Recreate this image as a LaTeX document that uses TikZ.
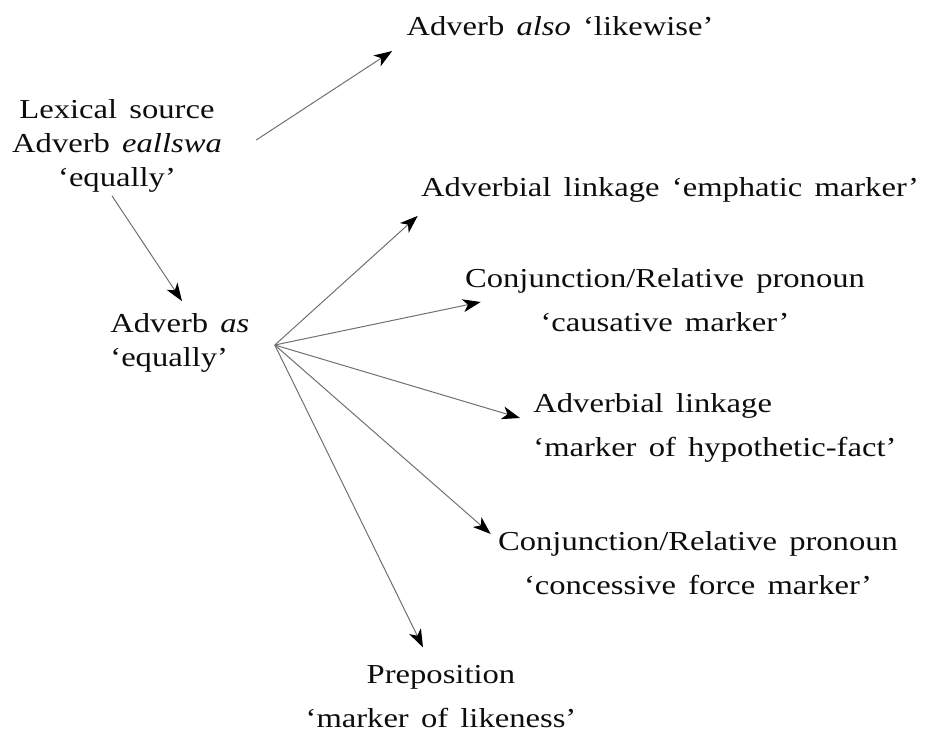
\documentclass[tikz,border=0pt]{standalone}
\usepackage{fontspec}
\setmainfont{Liberation Serif}[FakeStretch=1.19,WordSpace=1.5]
\usepackage{xcolor}
\usepackage{tikz}
\usetikzlibrary{arrows.meta, positioning, calc}
\definecolor{txtDark}{HTML}{0D0D0D}
\definecolor{lineGray}{HTML}{707070}

\begin{document}
\begin{tikzpicture}[x=0.5pt, y=-0.5pt,
    lbl/.style={inner sep=0pt, text=txtDark, font=\fontsize{13.7}{22}\selectfont},
    tight/.style={font=\fontsize{13.7}{17}\selectfont},
    arr/.style={-{Stealth[length=9pt, width=6.5pt, inset=2.5pt, black]}, line width=0.5pt, lineGray}
  ]
  \useasboundingbox (0,0) rectangle (927,730);
  \node[lbl] (also) at (560,26) {Adverb \textit{also} `likewise'};
  \node[lbl, tight, align=center] (lex) at (117,146) {Lexical source\\Adverb \textit{eallswa}\\`equally'};
  \node[lbl, tight, align=left, anchor=west] (as) at (110,343) {Adverb \textit{as}\\`equally'};
  \node[lbl] (emph) at (670,190) {Adverbial linkage `emphatic marker'};
  \node[lbl, align=center] (caus) at (665,300) {Conjunction/Relative pronoun\\`causative marker'};
  \node[lbl, align=left, anchor=west] (hyp) at (533,428) {Adverbial linkage\\`marker of hypothetic-fact'};
  \node[lbl, align=center] (conc) at (698,563) {Conjunction/Relative pronoun\\`concessive force marker'};
  \node[lbl, align=center] (prep) at (441,697) {Preposition\\`marker of likeness'};
  \coordinate (hub) at ([xshift=12.5pt, yshift=-1pt]as.east);
  \draw[arr] ([xshift=17pt, yshift=3pt]lex.east) -- ([xshift=-7pt, yshift=-7.5pt]also.south west);
  \draw[arr] ([xshift=-2.5pt, yshift=-1.5pt]lex.south) -- ([xshift=36pt, yshift=6pt]as.north west);
  \draw[arr] (hub) -- ([xshift=-1.5pt, yshift=-6.5pt]emph.south west);
  \draw[arr] (hub) -- ([xshift=8pt, yshift=-1pt]caus.west);
  \draw[arr] (hub) -- ([xshift=-6.5pt, yshift=5pt]hyp.west);
  \draw[arr] (hub) -- ([xshift=-3.5pt, yshift=-1.5pt]conc.north west);
  \draw[arr] (hub) -- ([xshift=-9pt, yshift=9pt]prep.north);
\end{tikzpicture}
\end{document}
